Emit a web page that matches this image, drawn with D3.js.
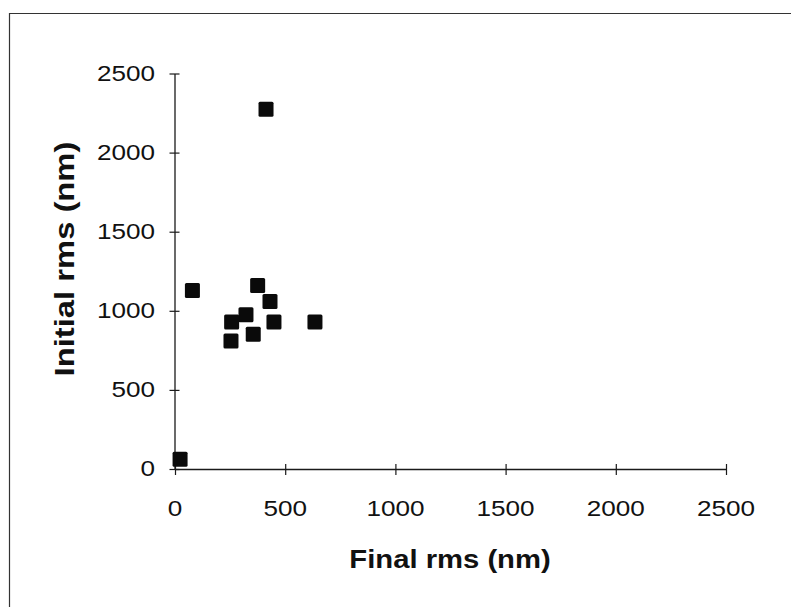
<!DOCTYPE html>
<html>
<head>
<meta charset="utf-8">
<script src="https://cdn.jsdelivr.net/npm/d3@7"></script>
<style>
  html, body { margin: 0; padding: 0; background: #fff; }
  svg { display: block; }
  text { font-family: "Liberation Sans", Arial, sans-serif; fill: #111; }
</style>
</head>
<body>
<svg id="chart" width="791" height="607"></svg>
<script>
// Data
const finalRms   = [413, 79, 375, 431, 322, 257, 449, 635, 355, 254, 23];
const initialRms = [2274, 1129, 1160, 1059, 975, 929, 929, 929, 851, 809, 61];
const xTicks = [0, 500, 1000, 1500, 2000, 2500];
const yTicks = [0, 500, 1000, 1500, 2000, 2500];
const xTitle = "Final rms (nm)";
const yTitle = "Initial rms (nm)";

const svg = d3.select("#chart");
const ink = "#1a1a1a";
const stretch = 1.16; // the reference font is horizontally wide

// outer frame (top and left edges visible)
svg.append("path")
  .attr("d", "M9.5,607 L9.5,13.5 L791,13.5")
  .attr("fill", "none").attr("stroke", "#333").attr("stroke-width", 1.2);

const x = d3.scaleLinear().domain([0, 2500]).range([175, 726]);
const y = d3.scaleLinear().domain([0, 2500]).range([469, 73.5]);

// X axis
const xAxis = svg.append("g").attr("transform", `translate(0,${y(0)})`)
  .call(d3.axisBottom(x).tickValues(xTicks).tickSizeInner(6).tickSizeOuter(0).tickFormat(""));
xAxis.select(".domain").attr("stroke", ink).attr("stroke-width", 1.3);
xAxis.selectAll(".tick line").attr("stroke", ink).attr("stroke-width", 1.2).attr("y1", -5).attr("y2", 6);
xAxis.selectAll(".tick text").remove();

// Y axis
const yAxis = svg.append("g").attr("transform", `translate(${x(0) - 0.5},0)`)
  .call(d3.axisLeft(y).tickValues(yTicks).tickSizeInner(5).tickSizeOuter(0).tickFormat(""));
yAxis.select(".domain").attr("stroke", ink).attr("stroke-width", 1.3);
yAxis.selectAll(".tick line").attr("stroke", ink).attr("stroke-width", 1.2).attr("x1", -5).attr("x2", 5);
yAxis.selectAll(".tick text").remove();

// tick labels (stretched horizontally like the reference)
svg.append("g").selectAll("g").data(xTicks).join("g")
  .attr("transform", d => `translate(${x(d)},516)`)
  .append("text")
  .attr("transform", `scale(${stretch},1)`)
  .attr("text-anchor", "middle")
  .attr("font-size", 22.5)
  .text(d => d3.format("d")(d));

svg.append("g").selectAll("g").data(yTicks).join("g")
  .attr("transform", d => `translate(155,${y(d) + 7})`)
  .append("text")
  .attr("transform", `scale(${stretch},1)`)
  .attr("text-anchor", "end")
  .attr("font-size", 22.5)
  .text(d => d3.format("d")(d));

// Points (square markers)
const pts = finalRms.map((v, i) => ({ fx: v, iy: initialRms[i] }));
const s = 15;
svg.append("g").selectAll("rect").data(pts).join("rect")
  .attr("x", d => x(d.fx) - s / 2)
  .attr("y", d => y(d.iy) - s / 2)
  .attr("width", s).attr("height", s)
  .attr("rx", 1.5)
  .attr("fill", "#0a0a0a");

// Axis titles
svg.append("g").attr("transform", "translate(450,568)")
  .append("text")
  .attr("transform", `scale(1.17,1)`)
  .attr("text-anchor", "middle")
  .attr("font-size", 25).attr("font-weight", "bold")
  .text(xTitle);

svg.append("g").attr("transform", "translate(74,259) rotate(-90)")
  .append("text")
  .attr("transform", `scale(1.17,1)`)
  .attr("text-anchor", "middle")
  .attr("font-size", 28).attr("font-weight", "bold")
  .text(yTitle);
</script>
</body>
</html>
